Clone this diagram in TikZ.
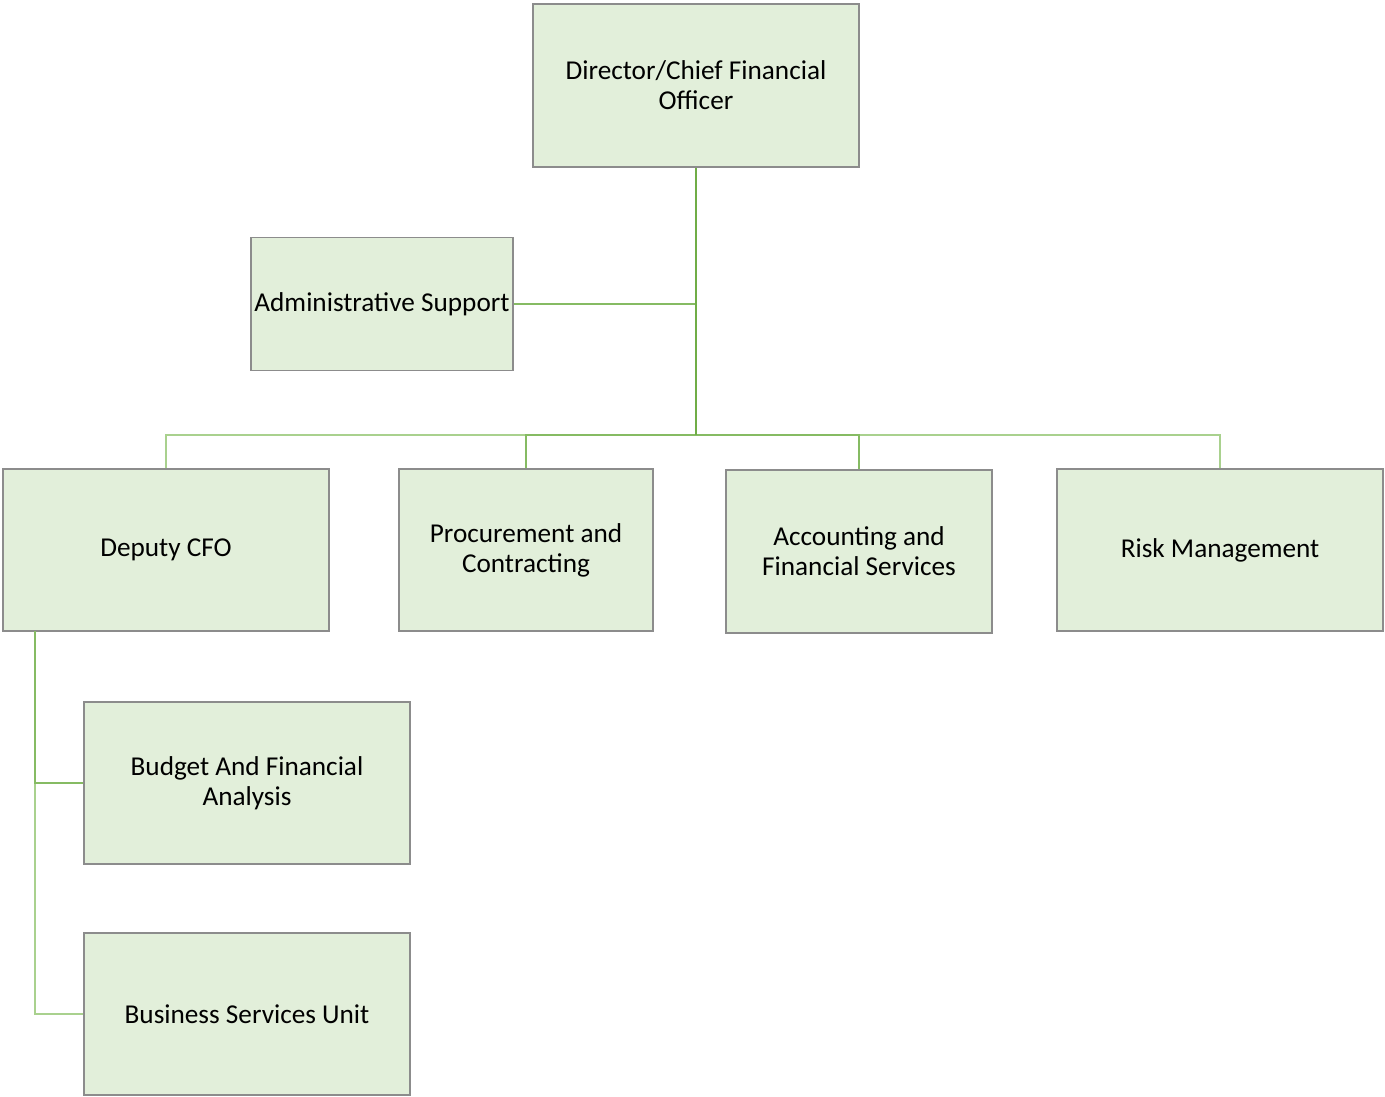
\documentclass[tikz,border=0pt]{standalone}
\usepackage{fontspec}
\setmainfont{Carlito}
\definecolor{boxfill}{HTML}{E2EFDA}
\definecolor{boxline}{HTML}{8C8C8C}
\definecolor{linkdark}{HTML}{70AD47}
\definecolor{linkmid}{HTML}{86BB63}
\definecolor{linklight}{HTML}{A9D18E}
\tikzset{
  unit/.style={draw=boxline, line width=0.8pt, fill=boxfill, align=center,
    inner sep=2pt, font=\fontsize{15.5}{17}\selectfont},
  trunkline/.style={draw=linkdark, line width=1.6pt},
  midline/.style={draw=linkmid, line width=1.2pt},
  subline/.style={draw=linklight, line width=1.2pt}
}
\begin{document}
\begin{tikzpicture}[x=0.02cm, y=-0.02cm]
    \useasboundingbox (0, 0) rectangle (1385, 1097);

    \node[unit, minimum width=6.52cm, minimum height=3.26cm] (cfo) at (696, 85.5) {Director/Chief Financial\\Officer};
    \node[unit, minimum width=5.24cm, minimum height=2.66cm] (admin) at (382, 304) {Administrative Support};

    \node[unit, minimum width=6.52cm, minimum height=3.24cm] (deputy) at (166, 550) {Deputy CFO};
    \node[unit, minimum width=5.08cm, minimum height=3.24cm] (proc) at (526, 550) {Procurement and\\Contracting};
    \node[unit, minimum width=5.32cm, minimum height=3.26cm] (acct) at (859, 551.5) {Accounting and\\Financial Services};
    \node[unit, minimum width=6.52cm, minimum height=3.24cm] (risk) at (1220, 550) {Risk Management};

    \node[unit, minimum width=6.52cm, minimum height=3.24cm] (budget) at (247, 783) {Budget And Financial\\Analysis};
    \node[unit, minimum width=6.52cm, minimum height=3.24cm] (bsu) at (247, 1014) {Business Services Unit};

    % trunk and bus
    \coordinate (bus) at (696, 435);
    \coordinate (spine) at (35, 631);
    \draw[midline] (admin.east) -- (admin.east -| bus);
    \draw[subline] (bus) -| (deputy.north);
    \draw[subline] (bus) -| (risk.north);
    \draw[midline] (bus) -| (proc.north);
    \draw[midline] (bus) -| (acct.north);
    \draw[trunkline] (cfo.south) -- (bus);

    % deputy branch
    \draw[subline] (spine) |- (bsu.west);
    \draw[midline] (spine) |- (budget.west);
\end{tikzpicture}
\end{document}
